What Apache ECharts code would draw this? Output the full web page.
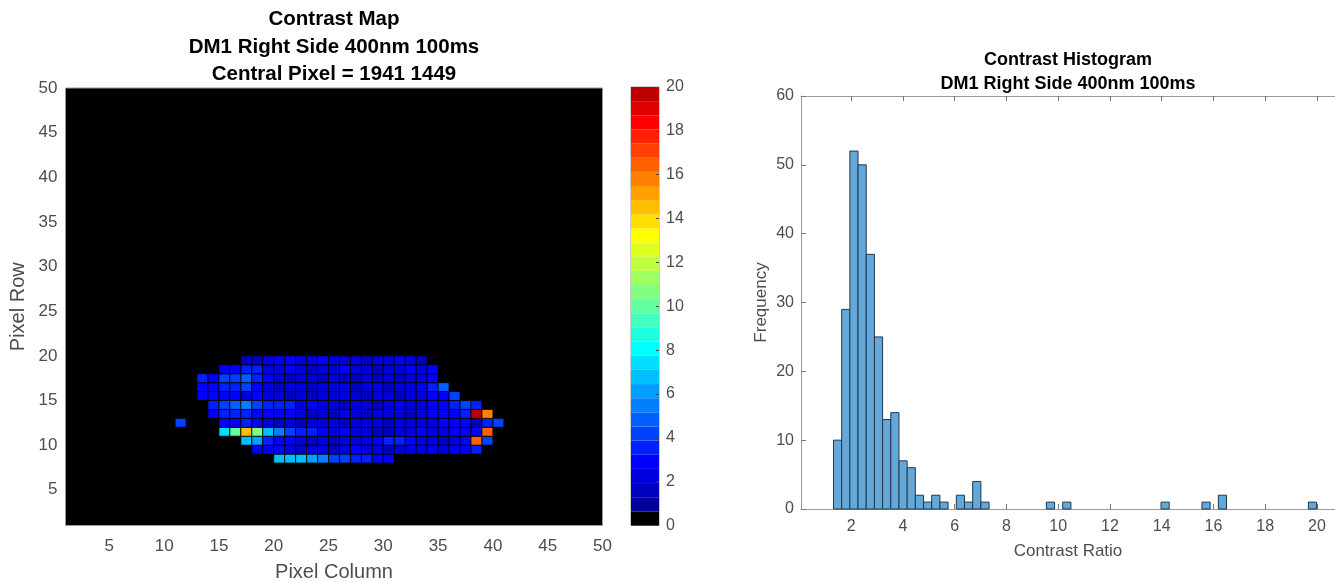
<!DOCTYPE html>
<html>
<head>
<meta charset="utf-8">
<title>Contrast Map / Contrast Histogram</title>
<script src="https://cdn.jsdelivr.net/npm/echarts@6/dist/echarts.min.js"></script>
<style>
	html, body { margin: 0; padding: 0; background: #fff; }
	#main { width: 1335px; height: 582px; }
</style>
</head>
<body>
<div id="main"></div>
<script>
var FONT = "'Liberation Sans', Arial, Helvetica, sans-serif";
var labelColor = "#4d4d4d";
var frameColor = "#9a9a9a";

// contrast map: pixel rows, first pixel column of each row, values along the row (0 = no data)
var heatRows = [8, 9, 10, 11, 12, 13, 14, 15, 16, 17, 18, 19];
var heatStart = [20, 18, 17, 15, 11, 14, 14, 13, 13, 13, 15, 17];
var heatValues = [
	[6.85, 6.8, 6.75, 6.1, 5.2, 4.25, 3.9, 3.7, 3.3, 3.05, 2.75],
	[3.05, 2.75, 3.05, 2.1, 1.8, 2.4, 2.1, 1.8, 2.4, 2.75, 2.1, 2.4, 1.8, 2.1, 2.4, 2.1, 2.75, 2.4, 3.05, 2.75, 3.65],
	[6.55, 6.2, 3.8, 3.05, 2.75, 2.1, 1.8, 2.4, 1.8, 2.1, 2.4, 2.1, 2.75, 3.55, 3.6, 2.75, 2.4, 2.1, 1.8, 2.4, 3.05, 16.35, 3.95],
	[7.17, 9.7, 14.25, 10.33, 6.9, 5.3, 4.0, 3.75, 3.45, 2.75, 2.1, 2.75, 2.1, 2.4, 1.8, 1.5, 2.4, 2.1, 2.75, 2.4, 2.1, 2.75, 3.05, 2.75, 16.35],
	[4.2, 0, 0, 0, 3.05, 2.75, 3.35, 3.05, 2.1, 1.8, 2.4, 1.8, 2.1, 2.4, 2.1, 1.5, 2.4, 2.1, 2.4, 1.8, 2.1, 2.4, 2.1, 2.4, 2.75, 3.05, 2.75, 1.5, 3.4, 4.1],
	[3.05, 3.25, 3.7, 3.55, 3.05, 3.05, 2.75, 3.05, 2.4, 1.8, 2.1, 1.8, 2.4, 2.1, 1.5, 2.4, 2.1, 2.4, 1.8, 2.1, 2.75, 3.05, 2.75, 3.25, 19.83, 15.72],
	[3.7, 4.3, 4.95, 5.6, 4.4, 3.75, 3.4, 3.3, 2.4, 2.75, 2.1, 2.4, 1.8, 2.1, 2.4, 1.5, 2.1, 2.75, 2.4, 2.1, 3.05, 2.75, 3.3, 4.2, 3.6],
	[2.75, 3.05, 2.75, 3.05, 2.4, 3.05, 2.1, 2.4, 1.8, 2.1, 1.5, 2.4, 2.1, 2.4, 2.1, 1.8, 2.4, 2.1, 1.8, 2.4, 2.1, 2.75, 3.05, 4.35],
	[3.05, 3.05, 3.4, 3.35, 4.0, 2.75, 2.4, 1.8, 2.1, 2.4, 1.8, 2.1, 2.4, 2.1, 1.5, 2.4, 2.1, 1.8, 2.4, 2.1, 2.75, 3.65, 4.55],
	[3.3, 3.05, 4.05, 3.9, 4.7, 3.6, 2.75, 2.1, 1.8, 2.4, 2.1, 1.8, 2.4, 1.8, 1.5, 2.1, 1.8, 2.4, 1.8, 2.1, 2.4, 3.05],
	[2.75, 2.75, 3.3, 3.6, 2.4, 2.1, 2.75, 2.4, 1.8, 2.1, 2.4, 2.75, 2.1, 2.4, 1.5, 2.1, 2.4, 3.05, 2.1, 2.75],
	[1.5, 1.8, 2.1, 2.75, 2.75, 2.4, 2.1, 2.75, 2.4, 2.1, 2.4, 1.8, 2.1, 2.4, 2.75, 2.1, 1.8]
];

// histogram: bins start at binStart, all binWidth wide
var binStart = 1.315;
var binWidth = 0.3165;
var histCounts = [
	10, 29, 52, 50, 37, 25, 13, 14, 7, 6,
	2, 1, 2, 1, 0, 2, 1, 4, 1, 0,
	0, 0, 0, 0, 0, 0, 1, 0, 1, 0,
	0, 0, 0, 0, 0, 0, 0, 0, 0, 0,
	1, 0, 0, 0, 0, 1, 0, 2, 0, 0,
	0, 0, 0, 0, 0, 0, 0, 0, 1
];

// tick labels
var mapTicks = [5, 10, 15, 20, 25, 30, 35, 40, 45, 50];
var histXTicks = [2, 4, 6, 8, 10, 12, 14, 16, 18, 20];

// colour map: black, then jet(30); colour limits 0..20
var climMax = 20;
var colormap = [
	"#000000", "#00009f", "#0000bf", "#0000df", "#0000ff", "#0020ff", "#0040ff", "#0060ff",
	"#0080ff", "#009fff", "#00bfff", "#00dfff", "#00ffff", "#20ffdf", "#40ffbf", "#60ff9f",
	"#80ff80", "#9fff60", "#bfff40", "#dfff20", "#ffff00", "#ffdf00", "#ffbf00", "#ff9f00",
	"#ff8000", "#ff6000", "#ff4000", "#ff2000", "#ff0000", "#df0000", "#bf0000"
];

function colorOf(v) {
	var i = Math.floor(v / climMax * colormap.length);
	i = Math.max(0, Math.min(colormap.length - 1, i));
	return colormap[i];
}

var heatData = [];
heatRows.forEach(function (row, i) {
	heatValues[i].forEach(function (v, j) {
		if (v > 0) heatData.push([heatStart[i] + j, row, v]);
	});
});

var histData = [];
histCounts.forEach(function (n, k) {
	if (n > 0) histData.push([binStart + k * binWidth, binStart + (k + 1) * binWidth, n]);
});

var barData = colormap.map(function (c, i) {
	return [i * climMax / colormap.length, (i + 1) * climMax / colormap.length, i];
});

var tickLabel = { color: labelColor, fontSize: 17, fontFamily: FONT };
var nameStyle = { color: labelColor, fontSize: 20, fontFamily: FONT };
var histLine = { show: true, onZero: false, lineStyle: { color: frameColor, width: 1 } };
var histTick = { show: true, inside: true, length: 5, lineStyle: { color: "#777" } };

var myChart = echarts.init(document.getElementById("main"), null, { renderer: "canvas" });
var option = {
	animation: false,
	textStyle: { fontFamily: FONT },
	title: [
		{
			text: "Contrast Map\nDM1 Right Side 400nm 100ms\nCentral Pixel = 1941 1449",
			left: 334,
			top: 6,
			padding: 0,
			textAlign: "center",
			textStyle: { color: "#000", fontSize: 20.5, fontWeight: "bold", lineHeight: 27.5, fontFamily: FONT }
		},
		{
			text: "Contrast Histogram\nDM1 Right Side 400nm 100ms",
			left: 1068,
			top: 48,
			padding: 0,
			textAlign: "center",
			textStyle: { color: "#000", fontSize: 18, fontWeight: "bold", lineHeight: 24, fontFamily: FONT }
		}
	],
	grid: [
		// contrast map
		{ left: 65.5, top: 88, width: 537, height: 437.5, outerBoundsMode: "none", show: true, backgroundColor: "#000", borderColor: frameColor, borderWidth: 1 },
		// colour bar
		{ left: 631, top: 87, width: 28, height: 438.5, outerBoundsMode: "none", show: true, backgroundColor: "#fff", borderColor: frameColor, borderWidth: 1 },
		// histogram (box runs past the right edge of the picture)
		{ left: 801, top: 96, width: 534, height: 413, outerBoundsMode: "none", show: false }
	],
	xAxis: [
		{
			gridIndex: 0, type: "value", min: 1, max: 50,
			axisLine: { show: false, onZero: false }, axisTick: { show: false }, splitLine: { show: false },
			axisLabel: Object.assign({ customValues: mapTicks, margin: 12 }, tickLabel),
			name: "Pixel Column", nameLocation: "middle", nameGap: 36.5, nameTextStyle: nameStyle
		},
		{
			gridIndex: 1, type: "value", min: 0, max: 1, show: false
		},
		{
			gridIndex: 2, type: "value", min: 0.06, max: 20.7,
			axisLine: histLine, splitLine: { show: false },
			axisTick: Object.assign({ customValues: histXTicks }, histTick),
			axisLabel: Object.assign({ customValues: histXTicks, margin: 10 }, tickLabel, { fontSize: 16 }),
			name: "Contrast Ratio", nameLocation: "middle", nameGap: 34, nameTextStyle: Object.assign({}, nameStyle, { fontSize: 17 })
		},
		{
			gridIndex: 2, type: "value", min: 0.06, max: 20.7, position: "top",
			axisLine: histLine, splitLine: { show: false }, axisLabel: { show: false },
			axisTick: Object.assign({ customValues: histXTicks }, histTick)
		}
	],
	yAxis: [
		{
			gridIndex: 0, type: "value", min: 1, max: 50,
			axisLine: { show: false, onZero: false }, axisTick: { show: false }, splitLine: { show: false },
			axisLabel: Object.assign({ customValues: mapTicks, margin: 8 }, tickLabel),
			name: "Pixel Row", nameLocation: "middle", nameRotate: 90, nameGap: 37, nameTextStyle: nameStyle
		},
		{
			gridIndex: 1, type: "value", min: 0, max: climMax, interval: 2, position: "right", z: 5,
			axisLine: { show: false, onZero: false }, splitLine: { show: false },
			axisTick: { show: true, inside: true, length: 3, lineStyle: { color: "#444" } },
			axisLabel: Object.assign({ margin: 7 }, tickLabel, { fontSize: 16 })
		},
		{
			gridIndex: 2, type: "value", min: 0, max: 60, interval: 10,
			axisLine: histLine, splitLine: { show: false },
			axisTick: histTick,
			axisLabel: Object.assign({ margin: 7 }, tickLabel, { fontSize: 16 }),
			name: "Frequency", nameLocation: "middle", nameRotate: 90, nameGap: 31, nameTextStyle: Object.assign({}, nameStyle, { fontSize: 17 })
		}
	],
	series: [
		{
			// pcolor cells, value at the lower left corner
			type: "custom",
			xAxisIndex: 0,
			yAxisIndex: 0,
			data: heatData,
			renderItem: function (params, api) {
				var c = api.value(0), r = api.value(1);
				var p0 = api.coord([c, r + 1]);
				var p1 = api.coord([c + 1, r]);
				return {
					type: "rect",
					shape: { x: p0[0], y: p0[1], width: p1[0] - p0[0], height: p1[1] - p0[1] },
					style: { fill: colorOf(api.value(2)), stroke: "#000", lineWidth: 0.8 }
				};
			}
		},
		{
			// colour bar
			type: "custom",
			xAxisIndex: 1,
			yAxisIndex: 1,
			data: barData,
			encode: { y: [0, 1] },
			renderItem: function (params, api) {
				var p0 = api.coord([0, api.value(1)]);
				var p1 = api.coord([1, api.value(0)]);
				return {
					type: "rect",
					shape: { x: p0[0], y: p0[1], width: p1[0] - p0[0], height: p1[1] - p0[1] },
					style: { fill: colormap[api.value(2)] }
				};
			}
		},
		{
			// histogram bars
			type: "custom",
			xAxisIndex: 2,
			yAxisIndex: 2,
			data: histData,
			encode: { x: [0, 1], y: 2 },
			renderItem: function (params, api) {
				var p0 = api.coord([api.value(0), api.value(2)]);
				var p1 = api.coord([api.value(1), 0]);
				return {
					type: "rect",
					shape: { x: p0[0], y: p0[1], width: p1[0] - p0[0], height: p1[1] - p0[1] },
					style: { fill: "#63a8d9", stroke: "#22384c", lineWidth: 1 }
				};
			}
		}
	]
};
myChart.setOption(option);
window.addEventListener("resize", myChart.resize);
</script>
</body>
</html>
